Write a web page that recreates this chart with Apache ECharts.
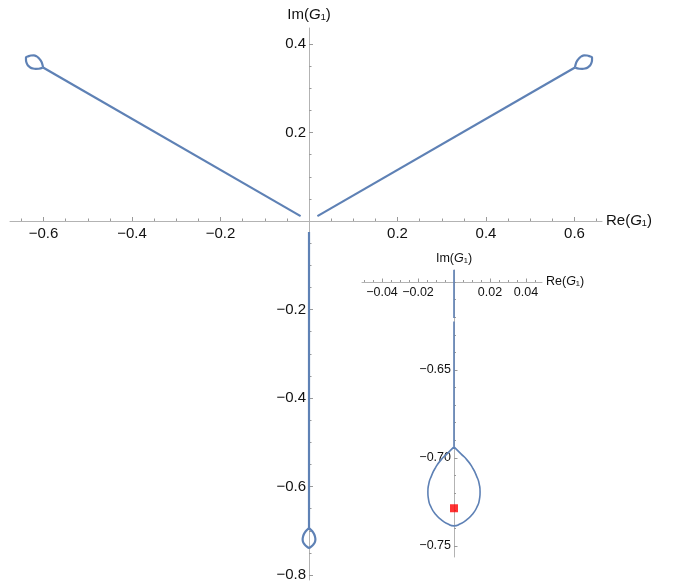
<!DOCTYPE html>
<html>
<head>
<meta charset="utf-8">
<script src="https://cdn.jsdelivr.net/npm/echarts@6/dist/echarts.min.js"></script>
<style>
html,body{margin:0;padding:0;background:#fff;}
#chart{width:673px;height:584px;}
</style>
</head>
<body>
<div id="chart"></div>
<script>
// ---- data ----
// main plot: three straight branches from near the origin ...
const lineDown = [[0,-0.025],[0,-0.694]];
const lineUpRight = [[0.019,0.011],[0.6010,0.3470]];
const lineUpLeft = [[-0.019,0.011],[-0.6010,0.3470]];
// ... each ending in a small teardrop loop (cusp first and last)
const loopDown = [[0,-0.694],
  [0.0074,-0.701],[0.0111,-0.7068],[0.0133,-0.7125],[0.0144,-0.7191],[0.0133,-0.7257],[0.0097,-0.7314],[0.0056,-0.7352],[0,-0.7386],
  [-0.0056,-0.7352],[-0.0097,-0.7314],[-0.0133,-0.7257],[-0.0144,-0.7191],[-0.0133,-0.7125],[-0.0111,-0.7068],[-0.0074,-0.701],[0,-0.694]];
const loopUpRight = [[0.6010,0.3470],
  [0.6034,0.3569],[0.6065,0.3630],[0.6104,0.3678],[0.6155,0.3721],[0.6218,0.3744],[0.6285,0.3741],[0.6339,0.3724],[0.6396,0.3693],
  [0.6395,0.3628],[0.6382,0.3573],[0.6351,0.3513],[0.6299,0.3471],[0.6237,0.3447],[0.6176,0.3438],[0.6108,0.3441],[0.6010,0.3470]];
const loopUpLeft = [[-0.6010,0.3470],
  [-0.6108,0.3441],[-0.6176,0.3438],[-0.6237,0.3447],[-0.6299,0.3471],[-0.6351,0.3513],[-0.6382,0.3573],[-0.6395,0.3628],[-0.6396,0.3693],
  [-0.6339,0.3724],[-0.6285,0.3741],[-0.6218,0.3744],[-0.6155,0.3721],[-0.6104,0.3678],[-0.6065,0.3630],[-0.6034,0.3569],[-0.6010,0.3470]];
// inset: zoom on the lower loop (the vertical branch has a tiny gap near -0.621)
const insetLineA = [[0,-0.593],[0,-0.6205]];
const insetLineB = [[0,-0.6225],[0,-0.6937]];
const insetLoop = [[0,-0.6937],
  [0.0039,-0.6977],[0.0072,-0.7011],[0.0103,-0.7056],[0.0125,-0.7102],[0.0140,-0.7147],[0.0145,-0.7193],
  [0.0141,-0.7238],[0.0128,-0.7278],[0.0104,-0.7318],[0.0070,-0.7352],[0.0036,-0.7374],[0,-0.7386],
  [-0.0036,-0.7374],[-0.0070,-0.7352],[-0.0104,-0.7318],[-0.0128,-0.7278],[-0.0141,-0.7238],[-0.0145,-0.7193],
  [-0.0140,-0.7147],[-0.0125,-0.7102],[-0.0103,-0.7056],[-0.0072,-0.7011],[-0.0039,-0.6977],[0,-0.6937]];
const insetPoint = [[0,-0.7286]];

// ticks
const mainXMajor = [-0.6,-0.4,-0.2,0.2,0.4,0.6];
const mainXMinor = [-0.65,-0.55,-0.5,-0.45,-0.35,-0.3,-0.25,-0.15,-0.1,-0.05,0.05,0.1,0.15,0.25,0.3,0.35,0.45,0.5,0.55,0.65];
const mainYMajor = [-0.8,-0.6,-0.4,-0.2,0.2,0.4];
const mainYMinor = [-0.75,-0.7,-0.65,-0.55,-0.5,-0.45,-0.35,-0.3,-0.25,-0.15,-0.1,-0.05,0.05,0.1,0.15,0.25,0.3,0.35];
const insetXMajor = [-0.04,-0.02,0.02,0.04];
const insetXMinor = [-0.05,-0.045,-0.035,-0.03,-0.025,-0.015,-0.01,-0.005,0.005,0.01,0.015,0.025,0.03,0.035,0.045];
const insetYMajor = [-0.65,-0.70,-0.75];
const insetYMinor = [-0.60,-0.61,-0.62,-0.63,-0.64,-0.66,-0.67,-0.68,-0.69,-0.71,-0.72,-0.73,-0.74];

// ---- chart ----
const FONT = '"Liberation Sans", Arial, sans-serif';
const BLUE = '#5E81B5';
const AXIS = '#b3b3b3';
const TICK = '#9a9a9a';
const minus = s => s.replace('-', '\u2212');

// grid geometry (pixels) and where the zero lines sit inside it
const MAIN = {left:10, top:28, width:592, height:552};
const MAIN_ZERO_X = 309, MAIN_ZERO_Y = 221;
const INSET = {left:362, top:270, width:180, height:287};
const INSET_ZERO_X = 454, INSET_AXIS_Y = 282;

function nameRich(size){
  return {
    a:{fontFamily:FONT,fontSize:size,color:'#111'},
    b:{fontFamily:FONT,fontSize:size,color:'#111',fontStyle:'italic'}
  };
}
function ax(o){
  return Object.assign({type:'value', splitLine:{show:false}}, o);
}
const hiddenLine = {onZero:false, lineStyle:{opacity:0}};
const shownLine = {onZero:false, lineStyle:{color:AXIS,width:1}};

const mainXOff = -((MAIN.top+MAIN.height) - MAIN_ZERO_Y);
const mainYOff = -(MAIN_ZERO_X - MAIN.left);
const insetXOff = -(INSET_AXIS_Y - INSET.top);
const insetYOff = -(INSET_ZERO_X - INSET.left);

const chart = echarts.init(document.getElementById('chart'), null, {renderer:'canvas'});
chart.setOption({
  animation:false,
  backgroundColor:'#fff',
  grid:[
    Object.assign({outerBoundsMode:'none', containLabel:false}, MAIN),
    Object.assign({outerBoundsMode:'none', containLabel:false}, INSET)
  ],
  xAxis:[
    ax({gridIndex:0, position:'bottom', offset:mainXOff, min:-0.6757, max:0.6621, axisLine:shownLine,
      axisTick:{customValues:mainXMajor, inside:true, length:4, lineStyle:{color:TICK}},
      axisLabel:{customValues:mainXMajor, margin:5, fontFamily:FONT, fontSize:15, color:'#111',
        formatter:v=>minus(String(v))},
      name:'{a|Re(}{b|G}{a|\u2081)}', nameLocation:'end', nameGap:4,
      nameTextStyle:{rich:nameRich(15)}
    }),
    ax({gridIndex:0, position:'bottom', offset:mainXOff, min:-0.6757, max:0.6621, axisLine:hiddenLine,
      axisTick:{customValues:mainXMinor, inside:true, length:2.5, lineStyle:{color:TICK}},
      axisLabel:{show:false}
    }),
    ax({gridIndex:1, position:'top', offset:insetXOff, min:-0.0511, max:0.0489, axisLine:shownLine,
      axisTick:{customValues:insetXMajor, length:3.5, lineStyle:{color:TICK}},
      axisLabel:{customValues:insetXMajor, inside:true, margin:4, fontFamily:FONT, fontSize:12.5, color:'#111',
        formatter:v=>minus(String(v))},
      name:'{a|Re(}{b|G}{a|\u2081)}', nameLocation:'end', nameGap:4,
      nameTextStyle:{rich:nameRich(12.5)}
    }),
    ax({gridIndex:1, position:'top', offset:insetXOff, min:-0.0511, max:0.0489, axisLine:hiddenLine,
      axisTick:{customValues:insetXMinor, length:2, lineStyle:{color:TICK}},
      axisLabel:{show:false}
    })
  ],
  yAxis:[
    ax({gridIndex:0, position:'left', offset:mainYOff, min:-0.8113, max:0.4362, axisLine:shownLine,
      axisTick:{customValues:mainYMajor, inside:true, length:4, lineStyle:{color:TICK}},
      axisLabel:{customValues:mainYMajor, margin:3, fontFamily:FONT, fontSize:15, color:'#111',
        formatter:v=>minus(String(v))},
      name:'{a|Im(}{b|G}{a|\u2081)}', nameLocation:'end', nameGap:6,
      nameTextStyle:{rich:nameRich(15)}
    }),
    ax({gridIndex:0, position:'left', offset:mainYOff, min:-0.8113, max:0.4362, axisLine:hiddenLine,
      axisTick:{customValues:mainYMinor, inside:true, length:2.5, lineStyle:{color:TICK}},
      axisLabel:{show:false}
    }),
    ax({gridIndex:1, position:'left', offset:insetYOff, min:-0.7563, max:-0.5932, axisLine:shownLine,
      axisTick:{customValues:insetYMajor, inside:true, length:3.5, lineStyle:{color:TICK}},
      axisLabel:{customValues:insetYMajor, margin:3, fontFamily:FONT, fontSize:12.5, color:'#111',
        formatter:v=>minus(v.toFixed(2))},
      name:'{a|Im(}{b|G}{a|\u2081)}', nameLocation:'end', nameGap:5,
      nameTextStyle:{rich:nameRich(12.5)}
    }),
    ax({gridIndex:1, position:'left', offset:insetYOff, min:-0.7563, max:-0.5932, axisLine:hiddenLine,
      axisTick:{customValues:insetYMinor, inside:true, length:2, lineStyle:{color:TICK}},
      axisLabel:{show:false}
    })
  ],
  series:[
    {type:'line', xAxisIndex:0, yAxisIndex:0, data:lineDown, showSymbol:false, lineStyle:{color:BLUE,width:2.2}, z:3},
    {type:'line', xAxisIndex:0, yAxisIndex:0, data:lineUpRight, showSymbol:false, lineStyle:{color:BLUE,width:2.2}, z:3},
    {type:'line', xAxisIndex:0, yAxisIndex:0, data:lineUpLeft, showSymbol:false, lineStyle:{color:BLUE,width:2.2}, z:3},
    {type:'line', xAxisIndex:0, yAxisIndex:0, data:loopDown, showSymbol:false, smooth:0.4, lineStyle:{color:BLUE,width:2.2}, z:3},
    {type:'line', xAxisIndex:0, yAxisIndex:0, data:loopUpRight, showSymbol:false, smooth:0.4, lineStyle:{color:BLUE,width:2.2}, z:3},
    {type:'line', xAxisIndex:0, yAxisIndex:0, data:loopUpLeft, showSymbol:false, smooth:0.4, lineStyle:{color:BLUE,width:2.2}, z:3},
    {type:'line', xAxisIndex:2, yAxisIndex:2, data:insetLineA, showSymbol:false, lineStyle:{color:BLUE,width:1.6}, z:3},
    {type:'line', xAxisIndex:2, yAxisIndex:2, data:insetLineB, showSymbol:false, lineStyle:{color:BLUE,width:1.6}, z:3},
    {type:'line', xAxisIndex:2, yAxisIndex:2, data:insetLoop, showSymbol:false, smooth:0.6, lineStyle:{color:BLUE,width:1.6}, z:3},
    {type:'scatter', xAxisIndex:2, yAxisIndex:2, data:insetPoint, symbol:'rect', symbolSize:8,
      itemStyle:{color:'#ff0000'}, z:4}
  ]
});
</script>
</body>
</html>
